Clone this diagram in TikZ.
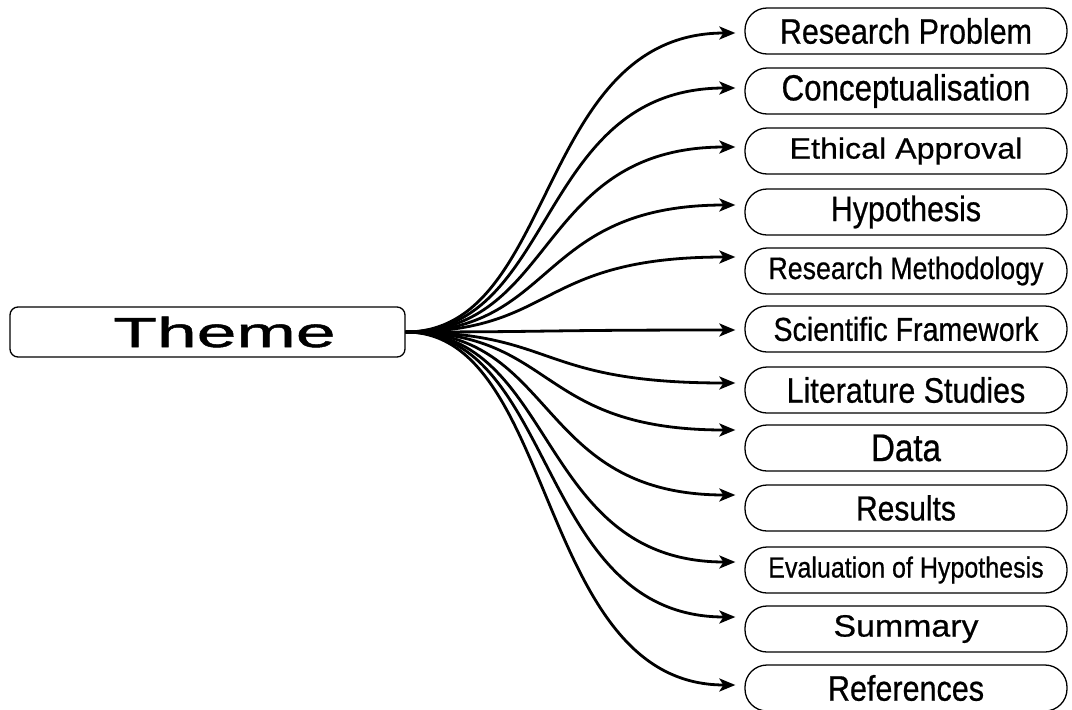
\documentclass[tikz,border=0pt]{standalone}
\usepackage{fontspec}
\setmainfont{Liberation Sans}
\newfontfamily\narrowfont[FakeStretch=0.86,FakeBold=0.6]{Liberation Sans}
\newfontfamily\plainfont[FakeStretch=1.1,FakeBold=0.6]{Liberation Sans}
\newfontfamily\widefont[FakeStretch=1.7,FakeBold=1.2]{Liberation Sans}
\usetikzlibrary{arrows.meta}
\tikzset{
  themebox/.style={draw, line width=1.3pt, rounded corners=8pt, minimum width=395pt, minimum height=50pt, inner sep=0pt},
  stagebox/.style={draw, line width=1.3pt, rounded corners=22pt, minimum width=322pt, minimum height=46pt, inner sep=0pt},
  link/.style={line width=2.8pt, -{Stealth[length=16pt,width=13pt,inset=4pt]}}
}

\begin{document}
\begin{tikzpicture}[x=1pt,y=-1pt]
\useasboundingbox (0,0) rectangle (1072,710);
% central theme
\node[themebox] (theme) at (207.5,332) {\widefont\fontsize{42}{48}\selectfont\hspace*{34pt}Theme};
% stages on the right
\foreach \n/\yc/\dy/\f/\s/\txt in {
  1/31/-2/\narrowfont/35.4/Research Problem,
  2/91/3/\narrowfont/36.4/Conceptualisation,
  3/151/4/\plainfont/29.3/Ethical Approval,
  4/212/7/\narrowfont/35.3/Hypothesis,
  5/271/14/\narrowfont/31.1/Research Methodology,
  6/329/-1/\narrowfont/33.2/Scientific Framework,
  7/390/7/\narrowfont/35.4/Literature Studies,
  8/448/18/\narrowfont/38.5/Data,
  9/508/13/\narrowfont/34.8/Results,
  10/570/8/\narrowfont/29.1/Evaluation of Hypothesis,
  11/629/12/\plainfont/30.8/Summary,
  12/688/3/\narrowfont/35.5/References}
{
  \node[stagebox] (b\n) at (906,\yc) {\f\fontsize{\s}{\s}\selectfont \txt};
  \coordinate (t\n) at ([xshift=-9pt,yshift=\dy pt]b\n.west);
  \draw[link] (theme.east) .. controls +(152,0) and +(-200,0) .. (t\n);
}
\end{tikzpicture}
\end{document}
